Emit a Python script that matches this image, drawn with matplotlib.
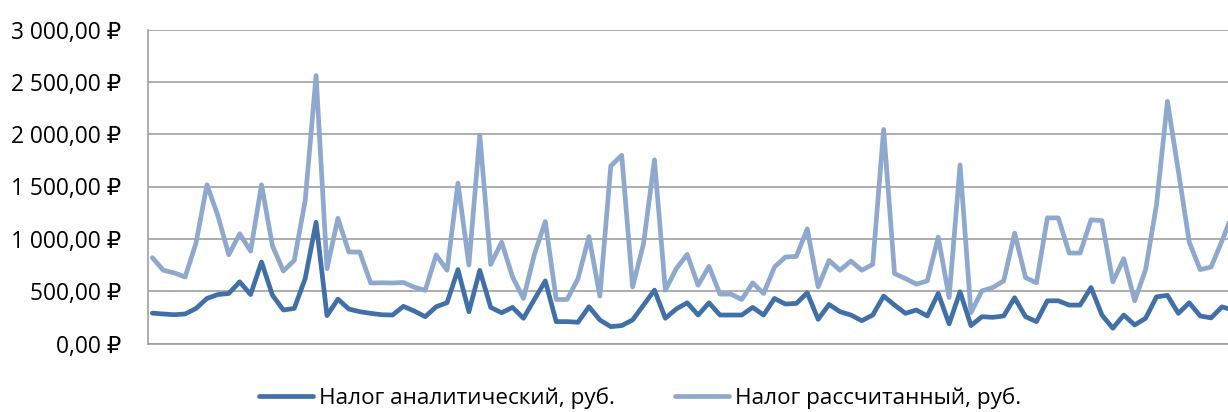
import matplotlib
matplotlib.use("Agg")
import matplotlib.pyplot as plt
from matplotlib.ticker import FuncFormatter, MultipleLocator

series_names = ["Налог аналитический, руб.", "Налог рассчитанный, руб."]

tax_analytic = [
    290, 282, 275, 282, 335, 430, 468, 478, 589, 468,
    779, 462, 320, 335, 620, 1158, 266, 424, 329, 304,
    288, 275, 272, 355, 310, 256, 351, 390, 706, 304,
    699, 345, 294, 345, 241, 421, 598, 209, 209, 203,
    351, 225, 161, 171, 225, 367, 510, 241, 330, 389,
    272, 389, 272, 272, 272, 345, 272, 430, 377, 383,
    484, 231, 373, 304, 272, 218, 272, 453, 367, 288,
    320, 263, 478, 187, 494, 171, 256, 250, 263, 437,
    256, 209, 408, 408, 367, 367, 535, 272, 146, 272,
    177, 241, 446, 460, 288, 389, 263, 245, 350, 320,
]

tax_calculated = [
    820, 700, 675, 635, 960, 1516, 1222, 848, 1048, 883,
    1516, 934, 693, 794, 1364, 2560, 715, 1196, 874, 874,
    578, 580, 578, 583, 538, 508, 846, 700, 1532, 750,
    1991, 756, 968, 636, 430, 851, 1165, 421, 421, 620,
    1022, 453, 1696, 1798, 541, 953, 1755, 510, 715, 851,
    557, 737, 472, 472, 421, 579, 478, 731, 826, 832,
    1095, 541, 794, 700, 788, 700, 756, 2045, 668, 620,
    567, 598, 1016, 440, 1706, 294, 503, 535, 598, 1054,
    630, 579, 1200, 1200, 864, 864, 1181, 1174, 589, 810,
    408, 706, 1326, 2314, 1649, 968, 706, 731, 980, 1250,
]

x = list(range(len(tax_analytic)))

plt.rcParams['font.family'] = ['Open Sans', 'DejaVu Sans']

fig = plt.figure(figsize=(12.28, 4.12), dpi=100)
ax = fig.add_axes([148/1228, 1-343.5/412, 1-148/1228, (343.5-29.5)/412])

dark = "#4170A8"
light = "#8FA8CE"

ax.plot(x, tax_analytic, color=dark, lw=3.4, solid_joinstyle='round',
        solid_capstyle='round', label=series_names[0], zorder=3)
ax.plot(x, tax_calculated, color=light, lw=3.4, solid_joinstyle='round',
        solid_capstyle='round', label=series_names[1], zorder=2)

ax.set_ylim(0, 3000)
ax.set_xlim(-0.4, 98.55)
ax.yaxis.set_major_locator(MultipleLocator(500))


def rub(v, pos):
    s = f"{v:,.2f}".replace(",", " ").replace(".", ",")
    return s + " ₽"


ax.yaxis.set_major_formatter(FuncFormatter(rub))
ax.set_xticks([])
ax.tick_params(axis='y', length=0, pad=19.5, labelsize=16.4, labelcolor="#000000")
ax.grid(axis='y', color="#A0A0A0", lw=1.2, zorder=0)
ax.set_axisbelow(True)
for s in ["top", "right"]:
    ax.spines[s].set_visible(False)
ax.spines["left"].set_color("#A0A0A0")
ax.spines["bottom"].set_color("#A0A0A0")
ax.spines["left"].set_linewidth(1.2)
ax.spines["bottom"].set_linewidth(1.2)

leg = fig.legend(loc='center', bbox_to_anchor=(640/1228, 1-398/412), ncol=2,
                 frameon=False, fontsize=16.2, handlelength=2.4,
                 handletextpad=0.27, columnspacing=2.7)

fig.savefig("out.png", dpi=100)
